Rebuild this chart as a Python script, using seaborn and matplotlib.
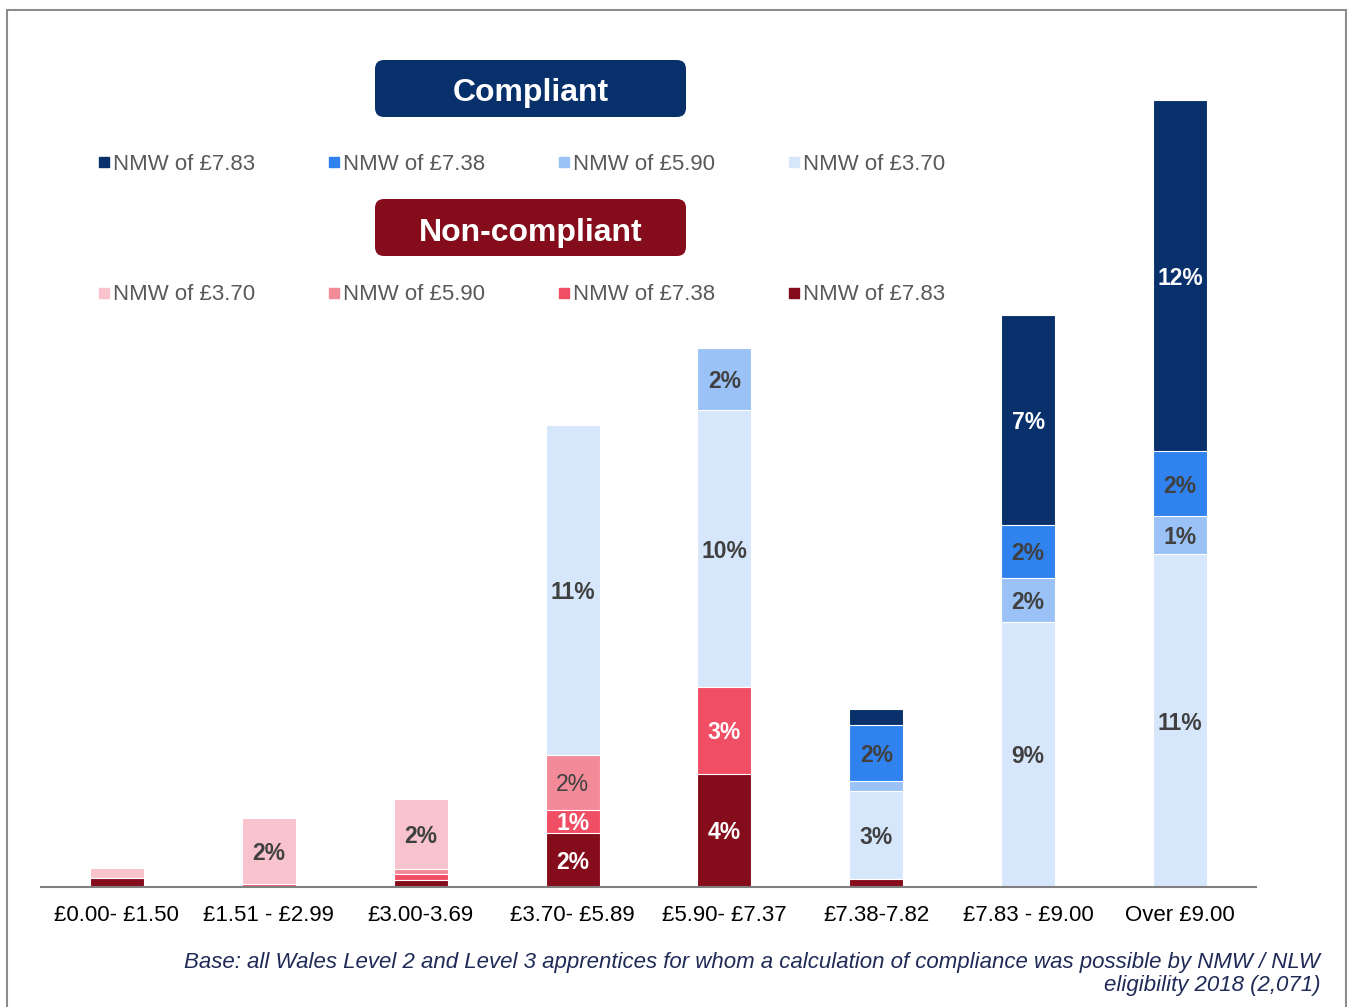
import numpy as np
import pandas as pd
import seaborn as sns
import matplotlib.pyplot as plt
from matplotlib.patches import FancyBboxPatch, Rectangle
from matplotlib.transforms import IdentityTransform
from matplotlib.lines import Line2D

# dane - procent praktykantow wg pasma stawki godzinowej
bands = ["£0.00- £1.50", "£1.51 - £2.99", "£3.00-3.69", "£3.70- £5.89",
         "£5.90- £7.37", "£7.38-7.82", "£7.83 - £9.00", "Over £9.00"]

# non-compliant (od dolu)
nc_783 = [0.30, 0.05, 0.24, 1.86, 3.90, 0.28, 0.00, 0.00]
nc_738 = [0.00, 0.05, 0.20, 0.80, 3.00, 0.00, 0.00, 0.00]
nc_590 = [0.00, 0.00, 0.17, 1.89, 0.00, 0.00, 0.00, 0.00]
nc_370 = [0.34, 2.28, 2.41, 0.00, 0.00, 0.00, 0.00, 0.00]
# compliant
c_370 = [0.00, 0.00, 0.00, 11.38, 9.54, 3.02, 9.14, 11.48]
c_590 = [0.00, 0.00, 0.00, 0.00, 2.14, 0.34, 1.52, 1.31]
c_738 = [0.00, 0.00, 0.00, 0.00, 0.00, 1.94, 1.83, 2.24]
c_783 = [0.00, 0.00, 0.00, 0.00, 0.00, 0.57, 7.24, 12.10]

legend_compliant = ["NMW of £7.83", "NMW of £7.38", "NMW of £5.90", "NMW of £3.70"]
legend_noncompliant = ["NMW of £3.70", "NMW of £5.90", "NMW of £7.38", "NMW of £7.83"]

# kolory i styl etykiet (kolejnosc stosu od dolu)
series = [nc_783, nc_738, nc_590, nc_370, c_370, c_590, c_738, c_783]
colors = ["#850C1B", "#F04E64", "#F38A98", "#F9C3CD",
          "#D6E6FB", "#9BC2F7", "#3082EE", "#08306B"]
lab_col = ["white", "white", "#404040", "#404040",
           "#404040", "#404040", "#404040", "white"]
lab_w = ["bold", "bold", "normal", "bold", "bold", "bold", "bold", "bold"]

sns.set_style("white")
plt.rcParams['font.family'] = ['Liberation Sans', 'DejaVu Sans']

fig = plt.figure(figsize=(13.47, 10.07), dpi=100)
ax = fig.add_axes([41/1347, 1 - 887/1007, 1215/1347, 867/1007])

vals = np.array(series)
cum = np.cumsum(vals, axis=0)

# stos - najwyzsza warstwa najpierw, potem nizsze na wierzchu
for i in range(len(series) - 1, -1, -1):
    df = pd.DataFrame({'band': bands, 'v': cum[i]})
    sns.barplot(data=df, x='band', y='v', order=bands, color=colors[i],
                saturation=1, width=0.355, edgecolor='white', linewidth=0.8,
                ax=ax)

# etykiety
for i in range(len(series)):
    for j in range(len(bands)):
        v = vals[i, j]
        if v >= 0.7:
            ax.text(j, cum[i, j] - v / 2, f"{round(v)}%", ha='center',
                    va='center_baseline', fontsize=16.5, color=lab_col[i],
                    fontweight=lab_w[i])

ax.set_xlim(-0.5, 7.5)
ax.set_ylim(0, 867 / 29)
ax.set_xlabel("")
ax.set_ylabel("")
ax.set_yticks([])
ax.tick_params(axis='x', length=0, pad=13, labelsize=16, labelcolor='black')
for s in ['top', 'left', 'right']:
    ax.spines[s].set_visible(False)
ax.spines['bottom'].set_color('#7F7F7F')
ax.spines['bottom'].set_linewidth(1.5)

# legendy
def make_leg(labels, cols, ypix):
    h = [Line2D([], [], marker='s', linestyle='none', markersize=7.5,
                markerfacecolor=c, markeredgecolor=c) for c in cols]
    leg = fig.legend(h, labels, loc='center left',
                     bbox_to_anchor=(99/1347, 1 - ypix/1007), ncol=4,
                     frameon=False, fontsize=16, labelcolor='#595959',
                     handlelength=0.45, handletextpad=0.2, columnspacing=3.3,
                     borderpad=0, borderaxespad=0)
    return leg

make_leg(legend_compliant, [colors[7], colors[6], colors[5], colors[4]], 164)
make_leg(legend_noncompliant, [colors[3], colors[2], colors[1], colors[0]], 295)

# naglowki w ramkach
for txt, col, ytop in [("Compliant", "#08306B", 60), ("Non-compliant", "#850C1B", 199)]:
    box = FancyBboxPatch((375, 1007 - ytop - 57), 311, 57,
                         boxstyle="round,pad=0,rounding_size=9",
                         facecolor=col, edgecolor='none', transform=IdentityTransform())
    fig.add_artist(box)
    fig.text(531/1347, 1 - (ytop + 30)/1007, txt, ha='center', va='center_baseline',
             fontsize=23, color='white', fontweight='bold')

# ramka
fig.add_artist(Rectangle((7/1347, -0.01), 1339/1347, 1 - 10/1007 + 0.01,
                         transform=fig.transFigure, fill=False,
                         edgecolor='#8C8C8C', linewidth=1.5))

fig.text(1320/1347, 1 - 974/1007,
         "Base: all Wales Level 2 and Level 3 apprentices for whom a calculation of compliance was possible by NMW / NLW\neligibility 2018 (2,071)",
         ha='right', va='center', fontsize=16, style='italic', color='#1F2A57',
         multialignment='right', linespacing=1.15)

fig.savefig("out.png", dpi=100)
